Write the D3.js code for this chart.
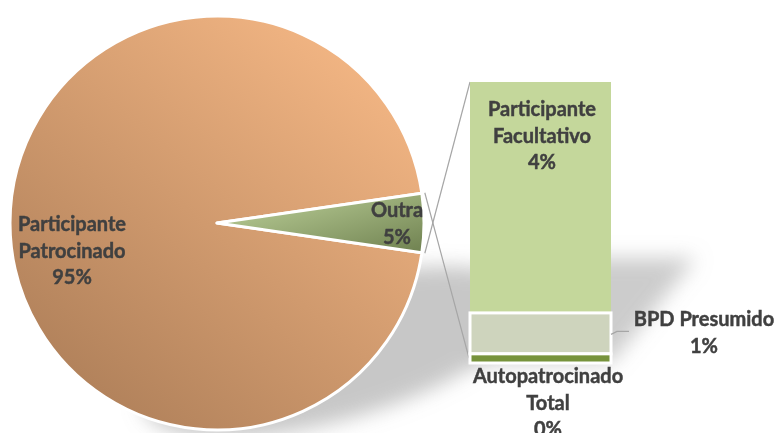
<!DOCTYPE html>
<html>
<head>
<meta charset="utf-8">
<script src="https://cdn.jsdelivr.net/npm/d3@7"></script>
<style>
  html, body { margin: 0; padding: 0; background: #fff; }
  svg { display: block; }
  text { font-family: Lato, "Open Sans", sans-serif; font-weight: bold; fill: #404040; stroke: #404040; stroke-width: 0.45; }
</style>
</head>
<body>
<svg width="774" height="433"></svg>
<script>
(function (d3) {
    'use strict';

    // data (percent of total)
    const pieLabels = ['Participante Patrocinado', 'Outra'];
    const pieValues = [95.4, 4.6];
    const barLabels = ['Participante Facultativo', 'BPD Presumido', 'Autopatrocinado Total'];
    const barValues = [3.78, 0.67, 0.15];

    const svg = d3.select('svg');
    const defs = svg.append('defs');

    const cx = 217, cy = 223, radius = 207;
    const barX = 470, barW = 141, barTop = 82, barBottom = 363;

    const blur = defs.append('filter').attr('id', 'blur')
        .attr('x', '-50%').attr('y', '-50%').attr('width', '200%').attr('height', '200%');
    blur.append('feGaussianBlur').attr('stdDeviation', 10);

    const gPie = defs.append('linearGradient').attr('id', 'gPie')
        .attr('x1', 0.85).attr('y1', 0.1).attr('x2', 0.15).attr('y2', 0.95);
    gPie.append('stop').attr('offset', 0).attr('stop-color', '#F2B583');
    gPie.append('stop').attr('offset', 1).attr('stop-color', '#AE7F59');

    const gOut = defs.append('linearGradient').attr('id', 'gOut')
        .attr('x1', 0).attr('y1', 0).attr('x2', 1).attr('y2', 1);
    gOut.append('stop').attr('offset', 0).attr('stop-color', '#C2D69E');
    gOut.append('stop').attr('offset', 1).attr('stop-color', '#6F8150');

    // soft shadows behind pie and bar
    const shadows = svg.append('g').attr('filter', 'url(#blur)');
    shadows.append('ellipse')
        .attr('cx', 335).attr('cy', 352).attr('rx', 200).attr('ry', 68)
        .attr('transform', 'rotate(-16 335 352)')
        .attr('fill', '#999').attr('opacity', 0.55);
    shadows.append('path')
        .attr('d', `M${barX},${barBottom} L${barX + barW},${barBottom} L${barX + barW + 85},258 L${barX + 75},258 Z`)
        .attr('fill', '#999').attr('opacity', 0.5);

    // pie: "Outra" slice centred on the right side
    const outraAngle = 2 * Math.PI * pieValues[1] / d3.sum(pieValues);
    const start = Math.PI / 2 + outraAngle / 2;
    const pie = d3.pie().sort(null).startAngle(start).endAngle(start + 2 * Math.PI);
    const arcs = pie(pieValues);
    const arc = d3.arc().innerRadius(0).outerRadius(radius);

    const g = svg.append('g').attr('transform', `translate(${cx}, ${cy})`);
    g.selectAll('path.slice')
        .data(arcs)
        .join('path')
        .attr('class', 'slice')
        .attr('d', arc)
        .attr('fill', (d, i) => i === 0 ? 'url(#gPie)' : 'url(#gOut)')
        .attr('stroke', '#fff')
        .attr('stroke-width', 3)
        .attr('stroke-linejoin', 'round');

    // connector lines from the slice edge to the bar
    const o = arcs[1];
    const edge = a => [cx + (radius + 3) * Math.sin(a), cy - (radius + 3) * Math.cos(a)];
    const p1 = edge(o.startAngle), p2 = edge(o.endAngle);
    svg.append('line')
        .attr('x1', p2[0]).attr('y1', p2[1]).attr('x2', barX).attr('y2', barTop)
        .attr('stroke', '#a6a6a6').attr('stroke-width', 1.2);
    svg.append('line')
        .attr('x1', p1[0]).attr('y1', p1[1]).attr('x2', barX - 1).attr('y2', barBottom - 5)
        .attr('stroke', '#a6a6a6').attr('stroke-width', 1.2);

    // stacked bar
    const y = d3.scaleLinear().domain([0, d3.sum(barValues)]).range([barTop, barBottom]);
    const cum = d3.cumsum(barValues);
    const barColors = ['#C4D79B', '#CED4BD', '#77933C'];
    svg.selectAll('rect.seg')
        .data(barValues)
        .join('rect')
        .attr('class', 'seg')
        .attr('x', barX)
        .attr('y', (d, i) => y(cum[i] - d))
        .attr('width', barW)
        .attr('height', d => y(d) - y(0))
        .attr('fill', (d, i) => barColors[i])
        .attr('stroke', (d, i) => i === 0 ? 'none' : '#fff')
        .attr('stroke-width', 3);

    // BPD leader line
    const bpdMid = (y(cum[1] - barValues[1]) + y(cum[1])) / 2;
    svg.append('polyline')
        .attr('points', `${barX + barW},${bpdMid + 1} ${barX + barW + 6},${bpdMid - 2} ${barX + barW + 18},${bpdMid - 2}`)
        .attr('fill', 'none').attr('stroke', '#a6a6a6').attr('stroke-width', 1.2);

    // labels
    const fmt = v => Math.round(v) + '%';
    const label = (lines, x, y0) => {
        const t = svg.append('text').attr('text-anchor', 'middle').attr('font-size', 20);
        lines.forEach((s, i) => t.append('tspan').attr('x', x).attr('y', y0 + i * 26.5).text(s));
    };
    label(['Participante', 'Patrocinado', fmt(pieValues[0])], 72, 231);
    label([pieLabels[1], fmt(pieValues[1])], 397, 217);
    label(['Participante', 'Facultativo', fmt(barValues[0])], 542, 116);
    label([barLabels[1], fmt(barValues[1])], 704, 326);
    label(['Autopatrocinado', 'Total', fmt(barValues[2])], 548, 383);

}(d3));
</script>
</body>
</html>
